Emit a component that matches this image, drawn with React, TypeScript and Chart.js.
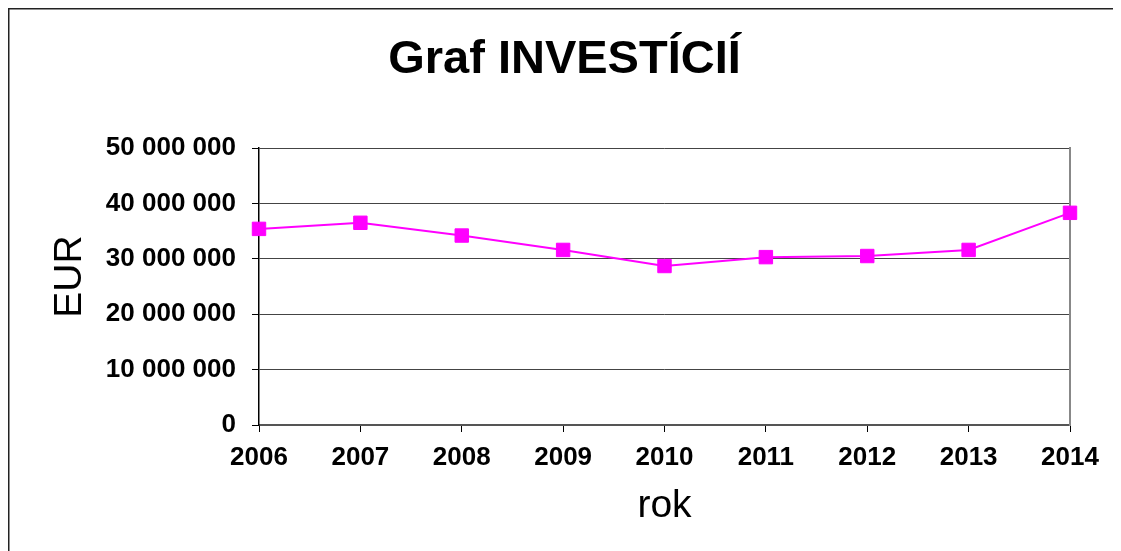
import React, { useEffect, useRef } from 'react';
import { Chart, registerables } from 'chart.js';

Chart.register(...registerables);

const chartTitle = 'Graf INVESTÍCIÍ';
const xAxisTitle = 'rok';
const yAxisTitle = 'EUR';
const years = ['2006', '2007', '2008', '2009', '2010', '2011', '2012', '2013', '2014'];
const investments = [35400000, 36500000, 34200000, 31600000, 28700000, 30300000, 30500000, 31600000, 38300000];
const yMin = 0;
const yMax = 50000000;
const yStep = 10000000;

const FONT = "'Liberation Sans', Arial, sans-serif";

function formatSpaces(v: number): string {
  return String(Math.round(v)).replace(/\B(?=(\d{3})+(?!\d))/g, ' ');
}

const framePlugin = {
  id: 'frame',
  afterDraw(chart: any) {
    const { ctx, chartArea } = chart;
    ctx.save();
    // outer frame (top and left edges visible)
    ctx.fillStyle = '#222222';
    ctx.fillRect(0, 0, chart.width, 1.5);
    ctx.fillRect(0, 0, 1.5, chart.height);
    // y axis title
    ctx.fillStyle = '#000000';
    ctx.font = `39px ${FONT}`;
    ctx.textAlign = 'center';
    ctx.textBaseline = 'middle';
    ctx.translate(62, (chartArea.top + chartArea.bottom) / 2 - 10);
    ctx.rotate(-Math.PI / 2);
    ctx.fillText(yAxisTitle, 0, 0);
    ctx.restore();
  },
};

export default function App() {
  const canvasRef = useRef<HTMLCanvasElement | null>(null);

  useEffect(() => {
    document.documentElement.style.overflow = 'hidden';
    document.body.style.overflow = 'hidden';
    const canvas = canvasRef.current;
    if (!canvas) return;
    const chart = new Chart(canvas, {
      type: 'line',
      data: {
        labels: years,
        datasets: [
          {
            data: investments,
            borderColor: '#FF00FF',
            backgroundColor: '#FF00FF',
            borderWidth: 2,
            pointStyle: 'rect',
            pointRadius: 9.5,
            pointBorderWidth: 1,
            pointBorderColor: '#FF00FF',
            pointBackgroundColor: '#FF00FF',
            tension: 0,
            clip: false as any,
            yAxisID: 'y',
          },
        ],
      },
      options: {
        responsive: false,
        animation: false,
        layout: { padding: 0 },
        plugins: {
          legend: { display: false },
          tooltip: { enabled: false },
          title: {
            display: true,
            text: chartTitle,
            color: '#000000',
            font: { family: FONT, size: 47, weight: 'bold', lineHeight: 1.2 },
            padding: { top: 24, bottom: 59.6 },
          },
        },
        scales: {
          x: {
            type: 'category',
            offset: false,
            afterFit: (scale: any) => {
              scale.height = 126;
            },
            grid: {
              drawOnChartArea: false,
              drawTicks: true,
              tickLength: 7,
              tickColor: '#000000',
              tickWidth: 1,
            },
            border: { display: true, color: '#555555', width: 2 },
            ticks: {
              color: '#000000',
              font: { family: FONT, size: 26, weight: 'bold' },
              padding: 10,
              maxRotation: 0,
              minRotation: 0,
              autoSkip: false,
            },
            title: {
              display: true,
              text: xAxisTitle,
              color: '#000000',
              font: { family: FONT, size: 39, weight: 'normal', lineHeight: 1.2 },
              padding: { top: 0, bottom: 21 },
            },
          },
          y: {
            position: 'left',
            min: yMin,
            max: yMax,
            afterFit: (scale: any) => {
              scale.width = 251;
            },
            grid: {
              drawOnChartArea: true,
              color: '#444444',
              lineWidth: 1,
              drawTicks: true,
              tickLength: 7,
              tickColor: '#000000',
            },
            border: { display: true, color: '#000000', width: 1.5 },
            ticks: {
              stepSize: yStep,
              color: '#000000',
              font: { family: FONT, size: 26, weight: 'bold' },
              padding: 16,
              callback: (v: any) => formatSpaces(Number(v)),
            },
          },
          yRight: {
            position: 'right',
            min: yMin,
            max: yMax,
            afterFit: (scale: any) => {
              scale.width = 51;
            },
            grid: { display: false, drawOnChartArea: false, drawTicks: false },
            border: { display: true, color: '#888888', width: 2 },
            ticks: { display: false },
          },
        },
      },
      plugins: [framePlugin],
    });
    return () => {
      chart.destroy();
    };
  }, []);

  return <canvas ref={canvasRef} width={1113} height={543} style={{ display: 'block' }} />;
}
